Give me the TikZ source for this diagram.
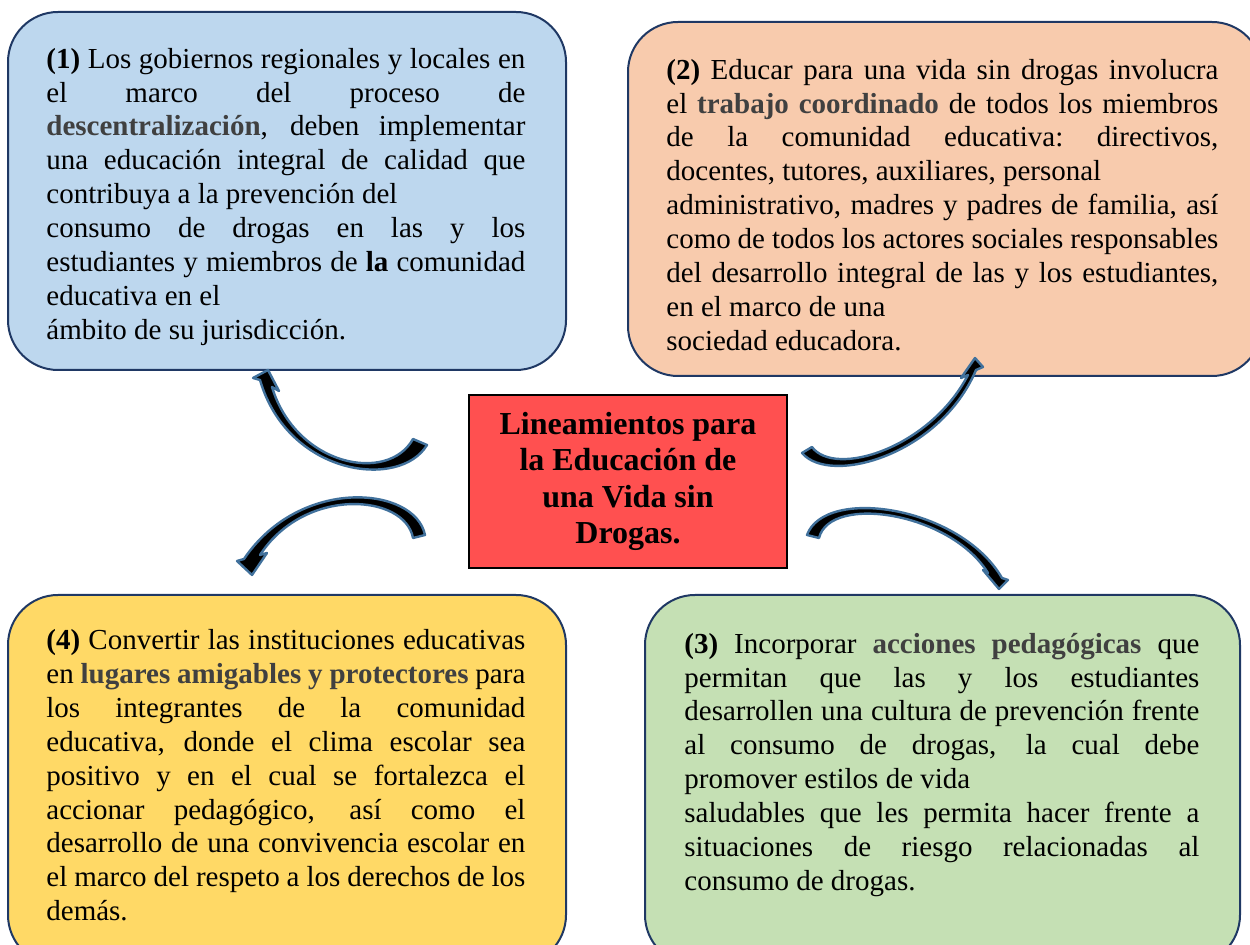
\documentclass[tikz,border=0pt]{standalone}
\usepackage{fontspec}
\setmainfont{Liberation Serif}
\usepackage{tikz}
\usetikzlibrary{positioning}

\definecolor{azulcaja}{HTML}{BDD7EE}
\definecolor{salmoncaja}{HTML}{F8CBAD}
\definecolor{verdecaja}{HTML}{C5E0B4}
\definecolor{amarillocaja}{HTML}{FFD966}
\definecolor{rojocaja}{HTML}{FF5050}
\definecolor{marco}{HTML}{1F3864}
\definecolor{azulflecha}{HTML}{41719C}
\definecolor{grisnegrita}{HTML}{404040}

\newlength{\anchotexto}
% normal word spaces, stretchable in the justified lines
\newcommand{\espacio}{\spaceskip=0.25em plus 1em minus 0.1em\xspaceskip=\spaceskip}
\newcommand{\resalto}[1]{\textbf{\textcolor{grisnegrita}{#1}}}
\newcommand{\jl}[1]{\makebox[\anchotexto][s]{\espacio#1}}
\newcommand{\rl}[1]{\makebox[\anchotexto][l]{\espacio#1}}

\begin{document}
\begin{tikzpicture}[x=0.5pt, y=-0.5pt,
				boxnode/.style={draw=marco, line width=1pt, rounded corners=25pt, inner sep=0pt},
				textnode/.style={inner sep=0pt, anchor=north west, align=left, text width=#1,
					execute at begin node={\setlength{\anchotexto}{#1}}, font=\fontsize{14.5}{16.95}\selectfont},
				mainnode/.style={draw=black, line width=1.2pt, fill=rojocaja, inner sep=0pt, minimum width=159pt, minimum height=86.5pt, align=center, font=\fontsize{16}{18.25}\selectfont\bfseries},
				bentarrow/.style={fill=black, draw=azulflecha, line width=1.2pt, line join=round},
				]
		\useasboundingbox (0,0) rectangle (1250,945);
		\clip (0,0) rectangle (1250,945);

				%Boxes
				\node[boxnode, fill=azulcaja, minimum width=279pt, minimum height=179pt]		(c1) at (287,191)	{};
				\node[boxnode, fill=salmoncaja, minimum width=317pt, minimum height=177pt]		(c2) at (945,199)	{};
				\node[boxnode, fill=verdecaja, minimum width=297.5pt, minimum height=185pt]		(c3) at (942.5,780)	{};
				\node[boxnode, fill=amarillocaja, minimum width=279pt, minimum height=185pt]		(c4) at (287,780)	{};
				\node[mainnode]		(m) at (628,481.5)	{Lineamientos para\\la Educación de\\una Vida sin\\Drogas.};

				%Texts
				\node[textnode=239.5pt]	(t1)	[below right=18.3pt and 19.5pt of c1.north west]
					{\jl{\textbf{(1)} Los gobiernos regionales y locales en}\\
					\jl{el marco del proceso de}\\
					\jl{\resalto{descentralización}, deben implementar}\\
					\jl{una educación integral de calidad que}\\
					\rl{contribuya a la prevención del}\\
					\jl{consumo de drogas en las y los}\\
					\jl{estudiantes y miembros de \textbf{la} comunidad}\\
					\rl{educativa en el}\\
					\rl{ámbito de su jurisdicción.}};
				\node[textnode=276pt]	(t2)	[below right=18.8pt and 19.5pt of c2.north west]
					{\jl{\textbf{(2)} Educar para una vida sin drogas involucra}\\
					\jl{el \resalto{trabajo coordinado} de todos los miembros}\\
					\jl{de la comunidad educativa: directivos,}\\
					\rl{docentes, tutores, auxiliares, personal}\\
					\jl{administrativo, madres y padres de familia, así}\\
					\jl{como de todos los actores sociales responsables}\\
					\jl{del desarrollo integral de las y los estudiantes,}\\
					\rl{en el marco de una}\\
					\rl{sociedad educadora.}};
				\node[textnode=257.5pt]	(t3)	[below right=19.3pt and 20pt of c3.north west]
					{\jl{\textbf{(3)} Incorporar \resalto{acciones pedagógicas} que}\\
					\jl{permitan que las y los estudiantes}\\
					\jl{desarrollen una cultura de prevención frente}\\
					\jl{al consumo de drogas, la cual debe}\\
					\rl{promover estilos de vida}\\
					\jl{saludables que les permita hacer frente a}\\
					\jl{situaciones de riesgo relacionadas al}\\
					\rl{consumo de drogas.}};
				\node[textnode=239.5pt]	(t4)	[below right=17.5pt and 19.5pt of c4.north west]
					{\jl{\textbf{(4)} Convertir las instituciones educativas}\\
					\jl{en \resalto{lugares amigables y protectores} para}\\
					\jl{los integrantes de la comunidad}\\
					\jl{educativa, donde el clima escolar sea}\\
					\jl{positivo y en el cual se fortalezca el}\\
					\jl{accionar pedagógico, así como el}\\
					\jl{desarrollo de una convivencia escolar en}\\
					\jl{el marco del respeto a los derechos de los}\\
					\rl{demás.}};

				%Arrows
				\draw[bentarrow] (413,439) -- (427,445) .. controls (400,490) and (288,476) .. (260,380) -- (253,378) -- (268,370) -- (279,391) -- (272,387) .. controls (296,466) and (388,484) .. (413,439) -- cycle;
				\draw[bentarrow] (425,535) .. controls (415,486) and (300,476) .. (244,559) -- (237,561) -- (252,575) -- (267,553) -- (260,555) .. controls (305,486) and (405,494) .. (413,538) -- cycle;
				\draw[bentarrow] (802,453) .. controls (830,486) and (940,455) .. (976,370) -- (983,367) -- (975,358) -- (961,378) -- (968,375) .. controls (930,448) and (835,478) .. (812,447) -- cycle;
				\draw[bentarrow] (807,535) .. controls (825,486) and (960,506) .. (1002,578) -- (1008,580) -- (999,589) -- (983,570) -- (988,573) .. controls (950,512) and (830,494) .. (819,538) -- cycle;
			\end{tikzpicture}
\end{document}
